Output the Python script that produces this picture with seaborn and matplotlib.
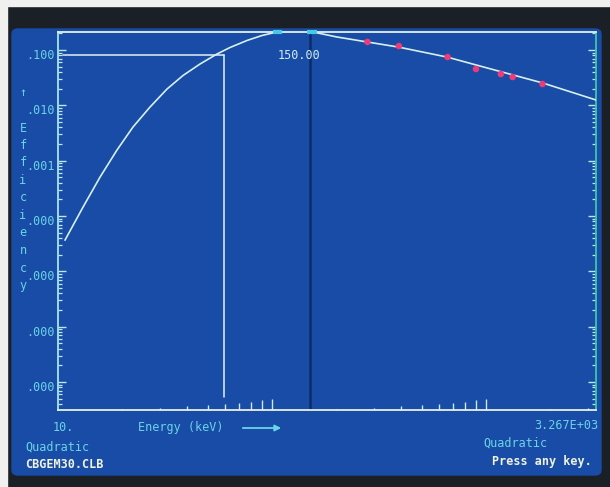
import numpy as np
import pandas as pd
import matplotlib
matplotlib.use('Agg')
import matplotlib.pyplot as plt
import matplotlib.transforms as mtrans
from matplotlib.patches import Rectangle, FancyBboxPatch
from matplotlib.ticker import FixedLocator, NullFormatter, LogLocator
import seaborn as sns

# efficiency curve (quadratic fit in log-log)
curve_energy = [10.78, 13.09, 15.72, 18.87, 22.41, 26.91, 32.31, 38.38, 46.08, 55.34,
                63.64, 76.41, 89.82, 105.5, 128, 156, 201, 278, 390, 657, 1000, 1845, 3267]
curve_eff = [3.66e-5, 1.45e-4, 5.05e-4, 1.56e-3, 4.06e-3, 9.31e-3, 0.0197, 0.0346,
             0.0558, 0.0847, 0.111, 0.1486, 0.183, 0.212, 0.225, 0.211, 0.172,
             0.140, 0.113, 0.0747, 0.048, 0.0253, 0.0125]

# calibration points (red dots)
point_energy = [279.2, 391.7, 661.7, 898.0, 1173.2, 1332.5, 1836.1]
point_eff = [0.140, 0.118, 0.0747, 0.0453, 0.0368, 0.0325, 0.0243]

y_ticks = [1e-1, 1e-2, 1e-3, 1e-4, 1e-5, 1e-6, 1e-7]
y_labels = ['.100', '.010', '.001', '.000', '.000', '.000', '.000']
x_minor = [20, 30, 40, 50, 60, 70, 80, 90, 100, 200, 300, 400, 500, 600, 700,
           800, 900, 1000, 2000, 3000]
x_range = [10, 3267]
x_labels = ['10.', '3.267E+03']
y_range = [3.12e-8, 0.2116]

cursor_energy = 150.0
marker_energy = 59.5
marker_eff = 0.081

df = pd.DataFrame({'Energy': curve_energy, 'Efficiency': curve_eff})
pts = pd.DataFrame({'Energy': point_energy, 'Efficiency': point_eff})

sns.set_theme(style='ticks')
plt.rcParams['font.family'] = ['DejaVu Sans Mono', 'DejaVu Sans']

CYAN = '#6ad4e6'
WHITE = '#e4f0ee'
BLUE = '#184ca6'

W, H = 610, 487
fig = plt.figure(figsize=(6.1, 4.87), dpi=100, facecolor='#1b1f26')
# photo edge and CRT screen
fig.patches.append(Rectangle((0, 1 - 6 / H), 1, 6 / H, transform=fig.transFigure,
                             color='#f0f0ee', zorder=-3))
fig.patches.append(Rectangle((0, 0), 7 / W, 1, transform=fig.transFigure,
                             color='#f0f0ee', zorder=-3))
fig.patches.append(FancyBboxPatch((12 / W, 1 - 475 / H), 589 / W, 446 / H,
                                  boxstyle='round,pad=0,rounding_size=0.01',
                                  transform=fig.transFigure, color=BLUE, zorder=-2))

ax = fig.add_axes([58 / W, 1 - 410 / H, 538 / W, 378 / H])
ax.patch.set_alpha(0)

sns.lineplot(data=df, x='Energy', y='Efficiency', ax=ax, color='#d6f0ee',
             lw=1.2, zorder=3)
sns.scatterplot(data=pts, x='Energy', y='Efficiency', ax=ax, color='#f03a78',
                s=22, edgecolor='none', zorder=4)

ax.set_xscale('log')
ax.set_yscale('log')
ax.set_xlim(x_range)
ax.set_ylim(y_range)

# cursor lines
ax.axvline(cursor_energy, color='#0c2b68', lw=1.8, zorder=2)
ax.plot([10.5, marker_energy], [marker_eff, marker_eff], color=WHITE, lw=1.1, zorder=2)
ax.plot([marker_energy, marker_energy], [marker_eff, 5.3e-8], color=WHITE, lw=1.1, zorder=2)
ax.plot([cursor_energy * 0.97, cursor_energy * 1.08], [y_range[1]] * 2, color='#48c8e8',
        lw=3, clip_on=False, zorder=5, solid_capstyle='butt')
ax.plot([101, 111], [y_range[1]] * 2, color='#48c8e8', lw=3, clip_on=False, zorder=5,
        solid_capstyle='butt')
ax.annotate(f'{cursor_energy:.2f}', xy=(cursor_energy, y_range[1]), xycoords='data',
            xytext=(-8, -17), textcoords='offset points', ha='center', va='center',
            fontsize=8.5, color='#cdeef0')

# spines
for side in ['left', 'bottom', 'top']:
    ax.spines[side].set_color(WHITE)
    ax.spines[side].set_linewidth(1.3)
ax.spines['left'].set_color('#a8e4ea')
ax.spines['right'].set_color('#3cc8a8')
ax.spines['right'].set_linewidth(1.3)

# y axis
ax.set_yticks(y_ticks)
ax.set_yticklabels(y_labels)
ax.yaxis.set_minor_locator(LogLocator(base=10, subs=np.arange(2, 10)))
ax.yaxis.set_minor_formatter(NullFormatter())
ax.tick_params(axis='y', which='major', direction='in', length=5.5, width=1,
               color='#bde8ea', labelcolor=CYAN, labelsize=8.5, pad=2,
               right=True, left=True)
ax.tick_params(axis='y', which='minor', direction='in', length=3, width=0.9,
               color='#bde8ea', right=True, left=True)
shift = mtrans.ScaledTranslation(0, -0.04, fig.dpi_scale_trans)
for lab in ax.get_yticklabels():
    lab.set_transform(lab.get_transform() + shift)

# x axis
ax.set_xticks(x_range)
ax.set_xticklabels(x_labels)
ax.tick_params(axis='x', which='major', length=0, labelcolor=CYAN, labelsize=8.5, pad=8)
xl = ax.get_xticklabels()
xl[0].set_ha('left')
xl[0].set_transform(xl[0].get_transform() + mtrans.ScaledTranslation(-0.05, 0, fig.dpi_scale_trans))
xl[1].set_ha('right')
xl[1].set_transform(xl[1].get_transform() + mtrans.ScaledTranslation(0.02, 0.02, fig.dpi_scale_trans))
ax.xaxis.set_minor_locator(FixedLocator(x_minor))
ax.xaxis.set_minor_formatter(NullFormatter())
ax.tick_params(axis='x', which='minor', direction='in', width=1, color='#cfeaea')
for t, v in zip(ax.xaxis.get_minor_ticks(len(x_minor)), x_minor):
    d = v / 10 ** np.floor(np.log10(v) + 1e-9)
    d = 10 if d < 1.5 else d
    t.tick1line.set_markersize((d - 1) * 1.2 * 0.72)

ax.set_xlabel('')
ax.set_ylabel('')

# y label column
col = ['\u2191', '', 'E', 'f', 'f', 'i', 'c', 'i', 'e', 'n', 'c', 'y']
for i, ch in enumerate(col):
    fig.text(23 / W, 1 - (93 + 17.5 * i) / H, ch, color=CYAN, fontsize=8.5,
             ha='center', va='center')

# screen text
fig.text(138 / W, 1 - 428 / H, 'Energy (keV)', color=CYAN, fontsize=8.5, va='center')
ax.annotate('', xy=(284 / W, 1 - 428 / H), xytext=(240 / W, 1 - 428 / H),
            xycoords='figure fraction', textcoords='figure fraction',
            arrowprops=dict(arrowstyle='-|>', color=CYAN, lw=1.3, mutation_scale=9))
fig.text(25 / W, 1 - 447 / H, 'Quadratic', color=CYAN, fontsize=8.5, va='center')
fig.text(25 / W, 1 - 465 / H, 'CBGEM30.CLB', color='#f0f2e0', fontsize=8.5,
         va='center', fontweight='bold')
fig.text(483 / W, 1 - 443 / H, 'Quadratic', color=CYAN, fontsize=8.5, va='center')
fig.text(592 / W, 1 - 462 / H, 'Press any key.', color='#f0f2e0', fontsize=8.5,
         va='center', ha='right', fontweight='bold')

plt.savefig('out.png', dpi=100, facecolor=fig.get_facecolor())
